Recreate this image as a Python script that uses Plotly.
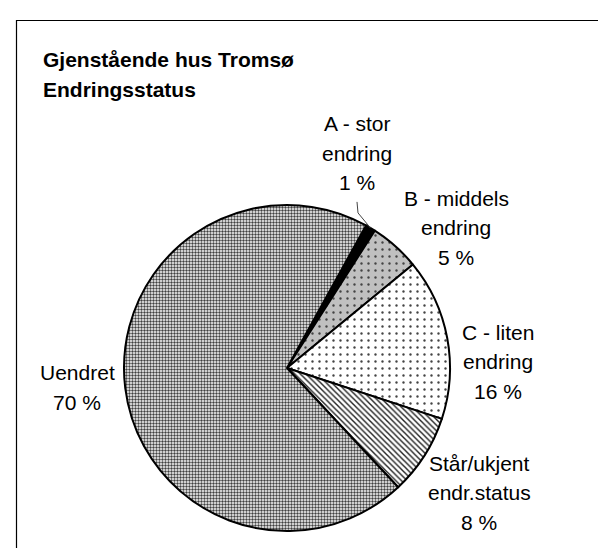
import math
import plotly.graph_objects as go

W, H = 606, 548

# ---- data ----
categories = ["A - stor endring", "B - middels endring", "C - liten endring",
              "Står/ukjent endr.status", "Uendret"]
values = [1, 5, 16, 8, 70]
label_lines = [["A - stor", "endring", "1 %"],
               ["B - middels", "endring", "5 %"],
               ["C - liten", "endring", "16 %"],
               ["Står/ukjent", "endr.status", "8 %"],
               ["Uendret", "70 %"]]
title_lines = ["Gjenstående hus Tromsø", "Endringsstatus"]

# ---- layout parameters (pixels) ----
cx, cy, r = 279, 360, 163
rotation = 29
label_pos = [(349, 115.5), (448, 190), (490, 324), (471.5, 455), (69, 364.5)]
line_step = 29.7

def px(x):
    return x / W

def py(y):
    return 1 - y / H

fills = [
    dict(color="black", pattern=dict(shape="")),
    dict(color="#c0c0c0", pattern=dict(shape=".", fgcolor="#444444", bgcolor="#c0c0c0",
                                        size=7, solidity=0.09)),
    dict(color="white", pattern=dict(shape=".", fgcolor="#444444", bgcolor="white",
                                     size=7, solidity=0.09)),
    dict(color="white", pattern=dict(shape="\\", fgcolor="#222222", bgcolor="white",
                                     size=4, solidity=0.35)),
    dict(color="#c0c0c0", pattern=dict(shape=".", fgcolor="#404040", bgcolor="white",
                                       size=3, solidity=0.5)),
]

fig = go.Figure(go.Pie(
    labels=categories,
    values=values,
    sort=False,
    direction="clockwise",
    rotation=rotation,
    textinfo="none",
    hoverinfo="label+percent",
    marker=dict(
        colors=[f["color"] for f in fills],
        pattern=dict(
            shape=[f["pattern"]["shape"] for f in fills],
            fgcolor=[f["pattern"].get("fgcolor", "black") for f in fills],
            bgcolor=[f["pattern"].get("bgcolor", f["color"]) for f in fills],
            size=[f["pattern"].get("size", 8) for f in fills],
            solidity=[f["pattern"].get("solidity", 0.3) for f in fills],
            fillmode="replace",
        ),
        line=dict(color="black", width=2),
    ),
    domain=dict(x=[px(cx - r), px(cx + r)], y=[py(cy + r), py(cy - r)]),
    showlegend=False,
))

annotations = []
font = dict(family="Liberation Sans, Arial, sans-serif", size=21, color="black")
for lines, (lx, ly) in zip(label_lines, label_pos):
    for i, t in enumerate(lines):
        annotations.append(dict(
            x=px(lx), y=py(ly + i * line_step), xref="paper", yref="paper",
            text=t, showarrow=False, xanchor="center", yanchor="middle", font=font))

for i, t in enumerate(title_lines):
    annotations.append(dict(
        x=px(33), y=py(51 + i * 30), xref="paper", yref="paper",
        text="<b>" + t + "</b>", showarrow=False, xanchor="left", yanchor="middle",
        font=dict(family="Liberation Sans, Arial, sans-serif", size=21, color="black")))

# leader line for slice A: from below the label to the slice's mid-angle on the rim
total = sum(values)
mid_a = math.radians(rotation + 360 * values[0] / total / 2)
ex, ey = cx + r * math.sin(mid_a), cy - r * math.cos(mid_a)
sx, sy = label_pos[0][0], label_pos[0][1] + 2 * line_step + 19
shapes = [
    dict(type="path", xref="paper", yref="paper",
         path=f"M {px(sx)} {py(sy)} L {px(sx + 1)} {py(sy + 11)} L {px(ex)} {py(ey)}",
         line=dict(color="#444444", width=1)),
    dict(type="rect", xref="paper", yref="paper",
         x0=px(8.5), x1=px(597), y0=py(560), y1=py(12.5),
         line=dict(color="black", width=1.2), fillcolor="rgba(0,0,0,0)"),
]

fig.update_layout(
    width=W, height=H,
    margin=dict(l=0, r=0, t=0, b=0),
    paper_bgcolor="white",
    annotations=annotations,
    shapes=shapes,
)

fig.write_html("out.html")
